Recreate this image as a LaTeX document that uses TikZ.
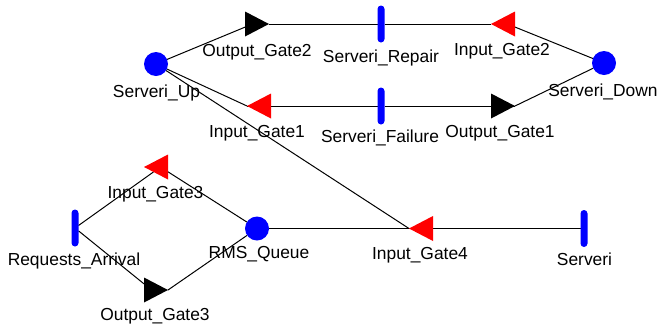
\documentclass[tikz,border=0pt]{standalone}
\usepackage{fontspec}
\setmainfont{Liberation Sans}
\usetikzlibrary{shapes.geometric}
\definecolor{pblue}{RGB}{0,0,255}
\definecolor{gred}{RGB}{255,0,0}
\pgfdeclarelayer{bg}
\pgfsetlayers{bg,main}
\begin{document}
\begin{tikzpicture}[x=1pt,y=-1pt,
 place/.style={circle, fill=pblue, minimum size=24pt, inner sep=0pt, outer sep=0pt},
 activity/.style={rectangle, fill=pblue, rounded corners=3.5pt, minimum width=7pt, minimum height=37pt, inner sep=0pt, outer sep=0pt},
 gate/.style={isosceles triangle, isosceles triangle stretches, minimum width=25pt, minimum height=24pt, inner sep=0pt, outer sep=0pt},
 outgate/.style={gate, fill=black, shape border rotate=0, anchor=apex},
 ingate/.style={gate, fill=gred, shape border rotate=180, anchor=apex},
 lab/.style={font=\fontsize{17.4}{20}\selectfont, inner sep=0pt, anchor=base},
 arc/.style={line width=1pt, black}]
\useasboundingbox (0,0) rectangle (662,325);
% places
\node[place] (up) at (156,64) {};
\node[place] (down) at (604,63) {};
\node[place] (queue) at (257,228.5) {};
% activities
\node[activity] (rep) at (381,24) {};
\node[activity] (fail) at (381,106) {};
\node[activity] (arr) at (75,228) {};
\node[activity] (serv) at (584,228.5) {};
% gates
\node[outgate] (og2) at (269,24) {};
\node[ingate] (ig2) at (491,24) {};
\node[ingate] (ig1) at (247,106) {};
\node[outgate] (og1) at (515,106) {};
\node[ingate] (ig3) at (144,167) {};
\node[outgate] (og3) at (168,290) {};
\node[ingate] (ig4) at (409,228.5) {};
% labels
\node[lab] (lup) at (156.5,97) {Serveri\_Up};
\node[lab] (ldown) at (603,96) {Serveri\_Down};
\node[lab] (lqueue) at (259,258) {RMS\_Queue};
\node[lab] (lrep) at (381,62) {Serveri\_Repair};
\node[lab] (lfail) at (380,142) {Serveri\_Failure};
\node[lab] (larr) at (74,265) {Requests\_Arrival};
\node[lab] (lserv) at (584.5,265) {Serveri};
\node[lab] (log2) at (257,56) {Output\_Gate2};
\node[lab] (lig2) at (502,55) {Input\_Gate2};
\node[lab] (lig1) at (257,137) {Input\_Gate1};
\node[lab] (log1) at (500,137) {Output\_Gate1};
\node[lab] (lig3) at (155.5,198) {Input\_Gate3};
\node[lab] (log3) at (155,320) {Output\_Gate3};
\node[lab] (lig4) at (420,259) {Input\_Gate4};
% connectors
\begin{pgfonlayer}{bg}
\draw[arc] (up) -- (og2);
\draw[arc] (og2.apex) -- (rep) -- (ig2.apex);
\draw[arc] (ig2) -- (down);
\draw[arc] (up) -- (ig1.apex);
\draw[arc] (ig1.apex) -- (fail) -- (og1.apex);
\draw[arc] (og1.apex) -- (down);
\draw[arc] (up) -- (ig4.apex);
\draw[arc] (queue) -- (ig4.apex);
\draw[arc] (ig4.apex) -- (serv);
\draw[arc] (arr) -- (ig3);
\draw[arc] (ig3) -- (queue);
\draw[arc] (arr) -- (og3);
\draw[arc] (og3.apex) -- (queue);
\end{pgfonlayer}
\end{tikzpicture}
\end{document}
